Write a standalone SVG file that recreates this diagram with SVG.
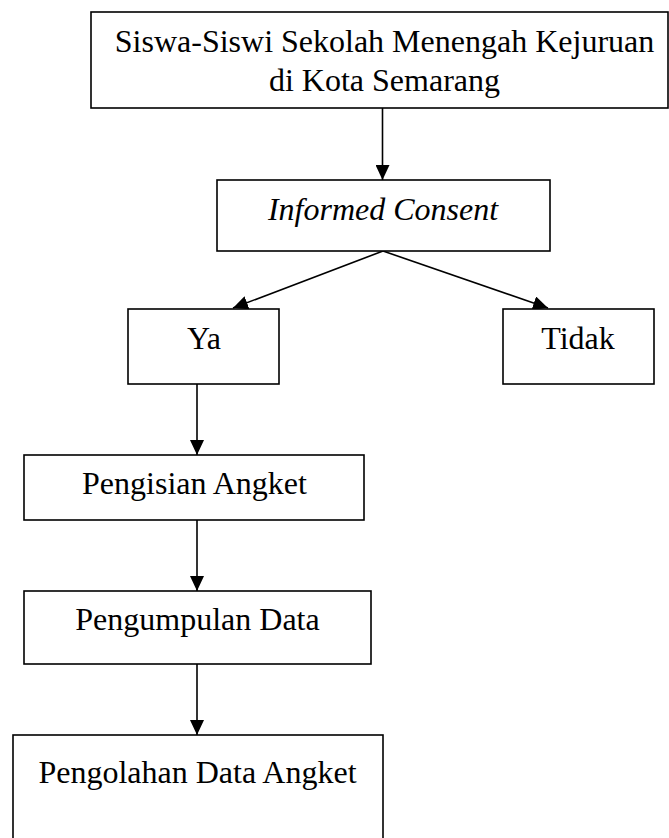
<svg xmlns="http://www.w3.org/2000/svg" width="669" height="838" viewBox="0 0 669 838">
<defs>
<marker id="ah" markerUnits="userSpaceOnUse" markerWidth="16" markerHeight="14" refX="15" refY="7" orient="auto">
<path d="M0,0 L15,7 L0,14 Z" fill="#000"/>
</marker>
<style>
rect{fill:#fff;stroke:#000;stroke-width:1.6}
text{font-family:"Liberation Serif","Times New Roman",serif;font-size:32px;fill:#000;text-anchor:middle}
.c line{stroke:#000;stroke-width:1.6}
</style>
</defs>
<rect x="0" y="0" width="669" height="838" style="stroke:none"/>
<g class="c" id="connectors">
<line x1="382.5" y1="108" x2="382.5" y2="180" marker-end="url(#ah)"/>
<line x1="383" y1="251" x2="233" y2="308" marker-end="url(#ah)"/>
<line x1="383" y1="251" x2="548" y2="308" marker-end="url(#ah)"/>
<line x1="197" y1="384" x2="197" y2="455" marker-end="url(#ah)"/>
<line x1="197" y1="520" x2="197" y2="591" marker-end="url(#ah)"/>
<line x1="197" y1="664" x2="197" y2="735" marker-end="url(#ah)"/>
</g>
<g id="n1">
<rect x="91" y="12" width="577" height="96"/>
<text x="384.5" y="52">Siswa-Siswi Sekolah Menengah Kejuruan</text>
<text x="384.5" y="91">di Kota Semarang</text>
</g>
<g id="n2">
<rect x="217" y="180" width="333" height="71"/>
<text x="383" y="220" font-style="italic">Informed Consent</text>
</g>
<g id="n3">
<rect x="128" y="309" width="151" height="75"/>
<text x="204" y="349">Ya</text>
</g>
<g id="n4">
<rect x="503" y="309" width="151" height="75"/>
<text x="578" y="349">Tidak</text>
</g>
<g id="n5">
<rect x="24" y="455" width="340" height="65"/>
<text x="194.5" y="494">Pengisian Angket</text>
</g>
<g id="n6">
<rect x="24" y="591" width="347" height="73"/>
<text x="197.5" y="630">Pengumpulan Data</text>
</g>
<g id="n7">
<rect x="13" y="735" width="370" height="110"/>
<text x="197.5" y="783">Pengolahan Data Angket</text>
</g>
</svg>
